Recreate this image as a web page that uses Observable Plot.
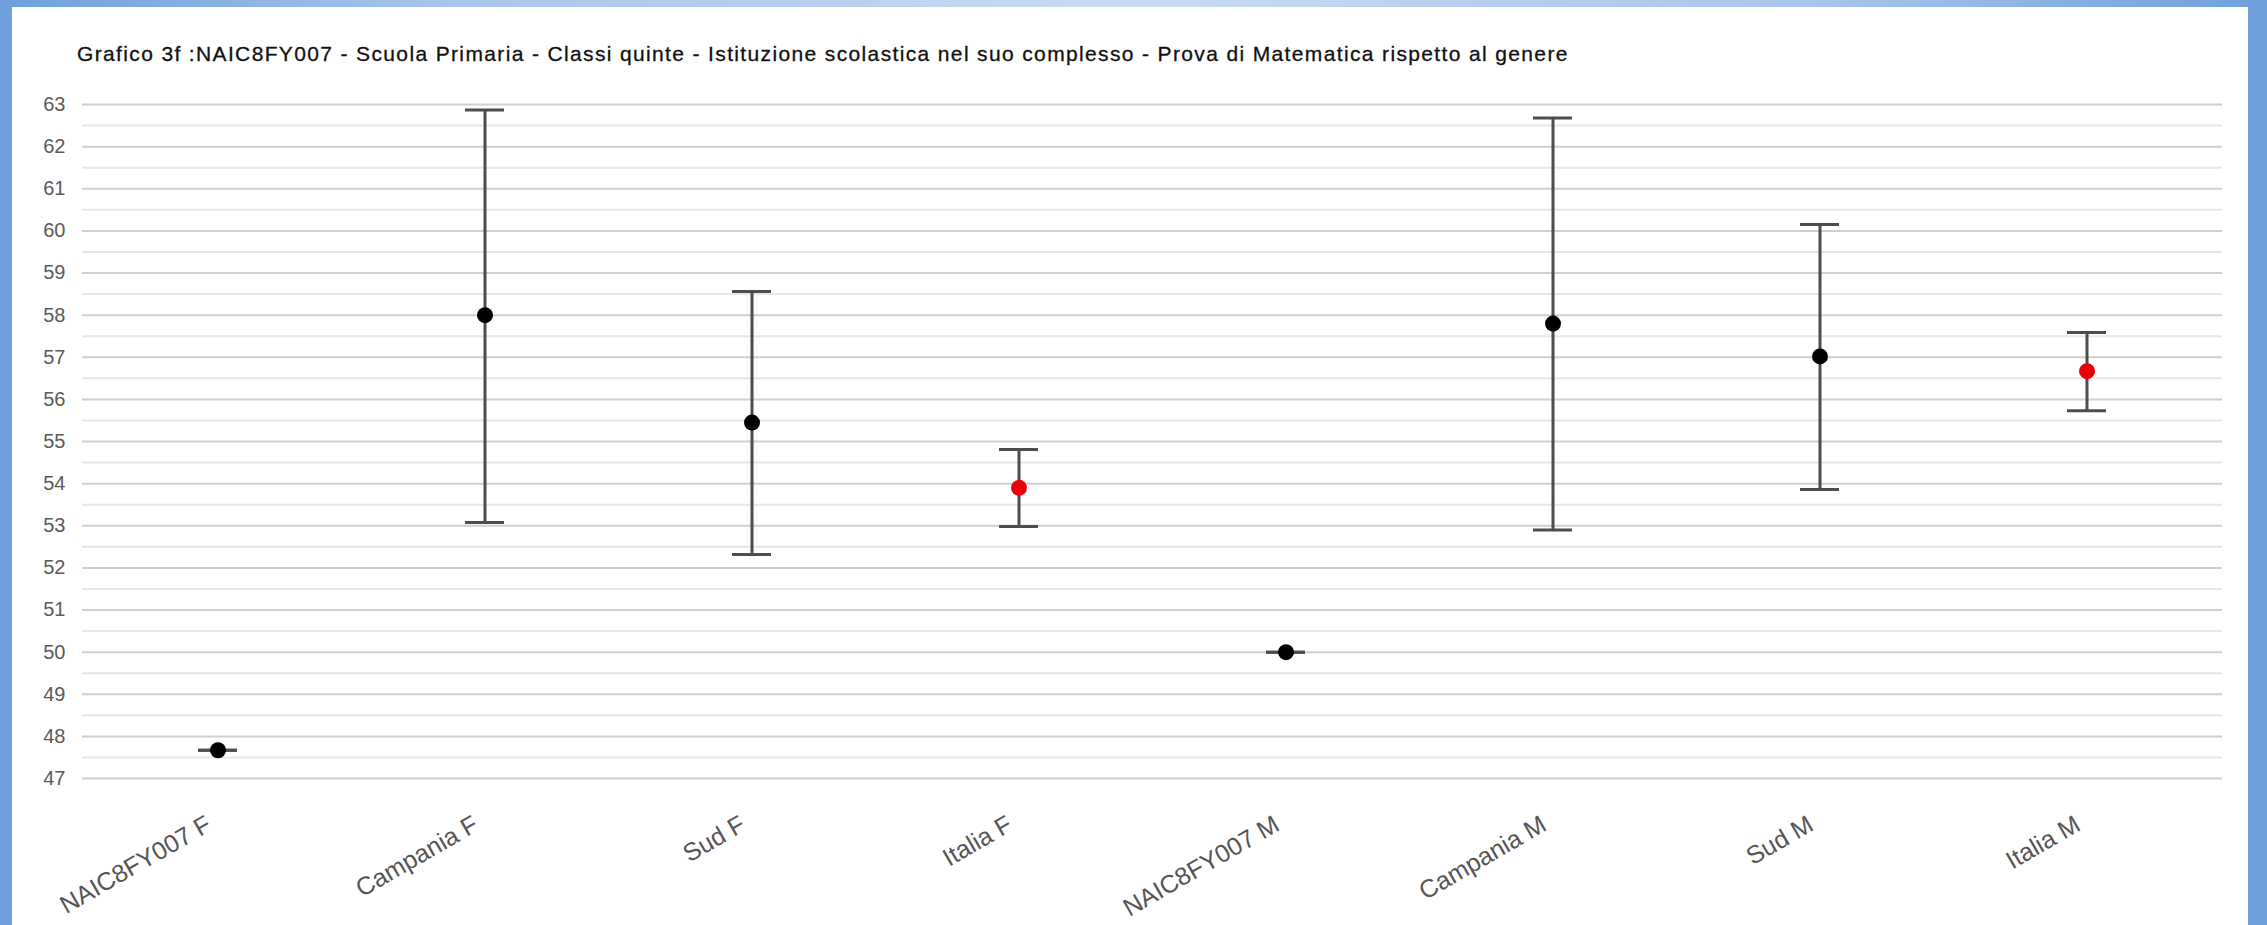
<!DOCTYPE html>
<html>
<head>
<meta charset="utf-8">
<script src="https://cdn.jsdelivr.net/npm/d3@7"></script>
<script src="https://cdn.jsdelivr.net/npm/@observablehq/plot@0.6"></script>
<style>
  html, body { margin: 0; padding: 0; width: 2267px; height: 925px; overflow: hidden; }
  body { background: linear-gradient(to right, #6f9fdc 0%, #a9c6ec 20%, #c8dbf2 50%, #a9c6ec 80%, #6f9fdc 100%); position: relative; font-family: "Liberation Sans", Arial, sans-serif; }
  #card { position: absolute; left: 12px; top: 7px; width: 2236px; height: 918px; background: #fff; }
  #title { position: absolute; left: 65px; top: 35px; font-size: 21px; color: #111; white-space: nowrap; letter-spacing: 1.36px; font-weight: normal; -webkit-text-stroke: 0.3px #111; }
  #chart { position: absolute; left: 0; top: 70px; }
</style>
</head>
<body>
<div id="card">
  <div id="title">Grafico 3f :NAIC8FY007 - Scuola Primaria - Classi quinte - Istituzione scolastica nel suo complesso - Prova di Matematica rispetto al genere</div>
  <div id="chart"></div>
</div>
<script>
const categories = ["NAIC8FY007 F", "Campania F", "Sud F", "Italia F", "NAIC8FY007 M", "Campania M", "Sud M", "Italia M"];
const means = [47.67, 58.0, 55.45, 53.9, 50.0, 57.8, 57.02, 56.67];
const lower = [47.67, 53.08, 52.32, 52.98, 50.0, 52.9, 53.86, 55.73];
const upper = [47.67, 62.87, 58.56, 54.81, 50.0, 62.68, 60.15, 57.59];
const majorTicks = d3.range(47, 64, 1);
const minorTicks = d3.range(47.5, 63, 1);

const data = categories.map((c, i) => ({cat: c, mean: means[i], lo: lower[i], hi: upper[i]}));
const isItalia = d => d.cat.startsWith("Italia");

const plot = Plot.plot({
  width: 2236,
  height: 855,
  marginLeft: 70,
  marginRight: 26,
  marginTop: 27,
  marginBottom: 154,
  style: {fontFamily: "'Liberation Sans', Arial, sans-serif", background: "transparent"},
  x: {type: "band", domain: categories, padding: 0, label: null},
  y: {domain: [47, 63], label: null},
  marks: [
    Plot.ruleY(minorTicks, {stroke: "#e6e6e6", strokeWidth: 2}),
    Plot.ruleY(majorTicks, {stroke: "#cfcfcf", strokeWidth: 2}),
    Plot.axisY({ticks: majorTicks, tickSize: 0, tickPadding: 17, fontSize: 20, fill: "#5a5a5a", tickFormat: d => d}),
    Plot.axisX({tickSize: 0, tickPadding: 44, tickRotate: -30, fontSize: 25, fill: "#555", dx: -9}),
    Plot.ruleX(data, {x: "cat", y1: "lo", y2: "hi", stroke: "#4d4d4d", strokeWidth: 3}),
    Plot.tickY(data, {x: "cat", y: "hi", stroke: "#4d4d4d", strokeWidth: 3, insetLeft: 114, insetRight: 114}),
    Plot.tickY(data, {x: "cat", y: "lo", stroke: "#4d4d4d", strokeWidth: 3, insetLeft: 114, insetRight: 114}),
    Plot.dot(data, {x: "cat", y: "mean", r: 8, fill: d => isItalia(d) ? "#e8000b" : "#000", stroke: "none"})
  ]
});
document.getElementById("chart").appendChild(plot);
</script>
</body>
</html>
